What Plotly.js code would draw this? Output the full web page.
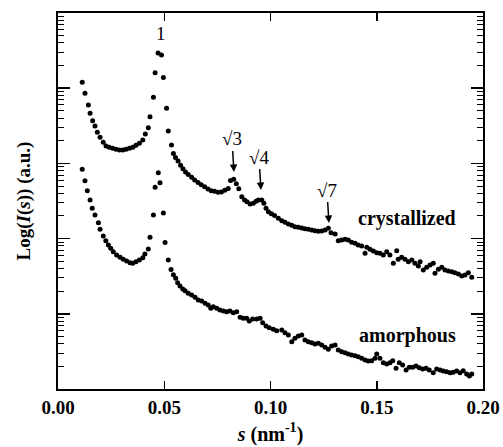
<!DOCTYPE html>
<html>
<head>
<meta charset="utf-8">
<script src="https://cdn.plot.ly/plotly-3.0.1.min.js"></script>
<style>html,body{margin:0;padding:0;background:#fff;}#chart{width:503px;height:447px;}</style>
</head>
<body>
<div id="chart"></div>
<script>
// scattering vector s (nm^-1) and Log(I(s)) values
var sCryst = [0.0114,0.0127,0.0143,0.0151,0.0163,0.0174,0.0185,0.0198,0.0213,0.0226,0.0241,0.0257,0.0273,0.0289,0.0305,0.0320,0.0336,0.0352,0.0367,0.0383,0.0399,0.0411,0.0425,0.0433,0.0449,0.0457,0.0471,0.0487,0.0496,0.0511,0.0519,0.0534,0.0543,0.0553,0.0565,0.0577,0.0588,0.0600,0.0613,0.0629,0.0643,0.0659,0.0674,0.0690,0.0706,0.0721,0.0737,0.0753,0.0769,0.0785,0.0801,0.0812,0.0827,0.0839,0.0851,0.0865,0.0878,0.0889,0.0904,0.0919,0.0932,0.0943,0.0959,0.0969,0.0979,0.0990,0.1004,0.1019,0.1037,0.1053,0.1068,0.1084,0.1100,0.1115,0.1131,0.1147,0.1162,0.1178,0.1194,0.1209,0.1225,0.1241,0.1257,0.1272,0.1285,0.1304,0.1319,0.1335,0.1351,0.1366,0.1382,0.1398,0.1413,0.1429,0.1445,0.1453,0.1468,0.1484,0.1500,0.1515,0.1531,0.1547,0.1562,0.1578,0.1594,0.1601,0.1617,0.1633,0.1649,0.1665,0.1680,0.1696,0.1704,0.1719,0.1735,0.1751,0.1766,0.1774,0.1790,0.1806,0.1821,0.1837,0.1853,0.1868,0.1884,0.1900,0.1915,0.1931,0.1947];
var logCryst = [4.078,3.932,3.777,3.666,3.568,3.497,3.414,3.347,3.281,3.231,3.214,3.201,3.187,3.178,3.178,3.187,3.201,3.214,3.241,3.267,3.311,3.391,3.475,3.621,3.879,4.206,4.468,4.441,4.142,3.733,3.431,3.245,3.132,3.078,3.032,2.975,2.930,2.886,2.852,2.815,2.779,2.746,2.717,2.690,2.660,2.636,2.629,2.617,2.620,2.642,2.666,2.773,2.789,2.730,2.664,2.557,2.513,2.491,2.460,2.469,2.496,2.513,2.513,2.469,2.403,2.358,2.331,2.307,2.270,2.238,2.217,2.194,2.177,2.158,2.150,2.141,2.132,2.124,2.114,2.105,2.097,2.101,2.114,2.137,2.078,2.061,1.972,1.981,1.991,1.981,1.951,1.938,1.915,1.902,1.805,1.884,1.858,1.835,1.812,1.805,1.782,1.826,1.782,1.672,1.839,1.725,1.751,1.725,1.693,1.715,1.672,1.636,1.693,1.582,1.618,1.649,1.672,1.539,1.592,1.618,1.582,1.569,1.560,1.547,1.529,1.503,1.516,1.547,1.485];
var sAmor = [0.0114,0.0127,0.0138,0.0151,0.0161,0.0174,0.0190,0.0198,0.0213,0.0225,0.0237,0.0248,0.0260,0.0276,0.0292,0.0307,0.0323,0.0339,0.0352,0.0367,0.0383,0.0399,0.0409,0.0425,0.0433,0.0449,0.0457,0.0472,0.0480,0.0496,0.0504,0.0519,0.0532,0.0543,0.0554,0.0563,0.0574,0.0587,0.0598,0.0613,0.0629,0.0645,0.0660,0.0676,0.0692,0.0707,0.0719,0.0731,0.0747,0.0762,0.0778,0.0794,0.0809,0.0825,0.0841,0.0857,0.0872,0.0888,0.0900,0.0916,0.0935,0.0951,0.0963,0.0979,0.0994,0.1013,0.1029,0.1053,0.1068,0.1084,0.1100,0.1115,0.1131,0.1147,0.1162,0.1178,0.1194,0.1209,0.1225,0.1241,0.1257,0.1272,0.1288,0.1304,0.1319,0.1335,0.1351,0.1366,0.1382,0.1398,0.1413,0.1429,0.1445,0.1460,0.1476,0.1492,0.1500,0.1515,0.1531,0.1547,0.1562,0.1575,0.1591,0.1606,0.1622,0.1638,0.1653,0.1669,0.1685,0.1700,0.1716,0.1732,0.1747,0.1766,0.1782,0.1798,0.1813,0.1829,0.1845,0.1860,0.1876,0.1892,0.1907,0.1923,0.1936,0.1947];
var logAmor = [2.922,2.770,2.637,2.513,2.403,2.314,2.211,2.124,2.035,1.972,1.915,1.871,1.826,1.782,1.751,1.725,1.702,1.680,1.672,1.693,1.715,1.746,1.795,1.862,2.017,2.314,2.682,2.876,2.743,2.340,1.948,1.715,1.589,1.520,1.472,1.414,1.370,1.330,1.307,1.273,1.250,1.219,1.184,1.170,1.140,1.117,1.073,1.094,1.073,1.051,1.037,1.028,1.037,1.015,1.028,0.953,0.940,0.940,0.904,0.931,0.931,0.940,0.882,0.838,0.815,0.794,0.775,0.785,0.749,0.718,0.629,0.674,0.705,0.718,0.652,0.629,0.616,0.598,0.608,0.585,0.555,0.528,0.572,0.585,0.519,0.496,0.483,0.465,0.452,0.443,0.430,0.408,0.386,0.372,0.376,0.408,0.465,0.408,0.350,0.332,0.350,0.376,0.275,0.350,0.319,0.253,0.289,0.289,0.306,0.283,0.266,0.275,0.253,0.217,0.266,0.253,0.239,0.230,0.217,0.222,0.239,0.217,0.243,0.199,0.173,0.199];
var xTickVals = [0, 0.05, 0.10, 0.15, 0.20];
var xTickText = ['0.00', '0.05', '0.10', '0.15', '0.20'];
var peakLabels = ['1', '√3', '√4', '√7'];
var peakS = [0.0485, 0.0828, 0.0955, 0.1275];
var peakLog = [4.734, 2.886, 2.646, 2.207];
var seriesLabels = ['crystallized', 'amorphous'];
var seriesLabelS = [0.1642, 0.1645];
var seriesLabelLog = [2.274, 0.718];

// minor tick positions of the Log axis (2..9 within each decade)
var minorVals = [];
for (var d = 0; d < 5; d++) { for (var m = 2; m <= 9; m++) { minorVals.push(d + Math.log10(m)); } }

var marker = {color: '#000', size: 5, symbol: 'circle'};
var traces = [
  {x: sCryst, y: logCryst, type: 'scatter', mode: 'markers', marker: marker, name: seriesLabels[0], showlegend: false},
  {x: sAmor, y: logAmor, type: 'scatter', mode: 'markers', marker: marker, name: seriesLabels[1], showlegend: false}
];

var serif = 'Liberation Serif, Times New Roman, serif';
var annotations = [];
annotations.push({x: peakS[0], y: peakLog[0], xref: 'x', yref: 'y', text: peakLabels[0], showarrow: false,
  font: {family: serif, size: 19, color: '#000'}});
for (var i = 1; i < peakLabels.length; i++) {
  annotations.push({x: peakS[i], y: peakLog[i], xref: 'x', yref: 'y', text: peakLabels[i], showarrow: true,
    ax: -2, ay: -33, arrowhead: 2, arrowsize: 1, arrowwidth: 1.5, arrowcolor: '#000', standoff: 0,
    font: {family: serif, size: 19, color: '#000'}});
}
for (var j = 0; j < seriesLabels.length; j++) {
  annotations.push({x: seriesLabelS[j], y: seriesLabelLog[j], xref: 'x', yref: 'y', text: '<b>' + seriesLabels[j] + '</b>',
    showarrow: false, font: {family: serif, size: 20, color: '#000'}});
}

var layout = {
  width: 503, height: 447,
  margin: {l: 58, r: 20, t: 13, b: 58},
  paper_bgcolor: '#fff', plot_bgcolor: '#fff',
  showlegend: false,
  font: {family: serif, color: '#000'},
  xaxis: {
    range: [0, 0.2], tickmode: 'array', tickvals: xTickVals, ticktext: xTickText,
    ticks: 'inside', ticklen: 8, tickwidth: 1.5, tickcolor: '#000',
    showline: true, linewidth: 2, linecolor: '#000', mirror: 'ticks',
    showgrid: false, zeroline: false,
    tickfont: {family: serif, size: 19, color: '#000', weight: 'bold'},
    title: {text: '<b><i>s</i> (nm<sup>-1</sup>)</b>', font: {family: serif, size: 20, color: '#000'}, standoff: 10}
  },
  yaxis: {
    range: [0, 5], tickmode: 'linear', tick0: 0, dtick: 1,
    ticks: 'inside', ticklen: 12, tickwidth: 1.5, tickcolor: '#000', showticklabels: false,
    showline: true, linewidth: 2, linecolor: '#000', mirror: 'ticks',
    showgrid: false, zeroline: false,
    minor: {tickmode: 'array', tickvals: minorVals, ticks: 'inside', ticklen: 6, tickwidth: 1, tickcolor: '#000', showgrid: false},
    title: {text: '<b>Log(<i>I</i>(<i>s</i>)) (a.u.)</b>', font: {family: serif, size: 19, color: '#000'}, standoff: 20}
  },
  annotations: annotations
};

Plotly.newPlot('chart', traces, layout, {displayModeBar: false, staticPlot: true});
</script>
</body>
</html>
